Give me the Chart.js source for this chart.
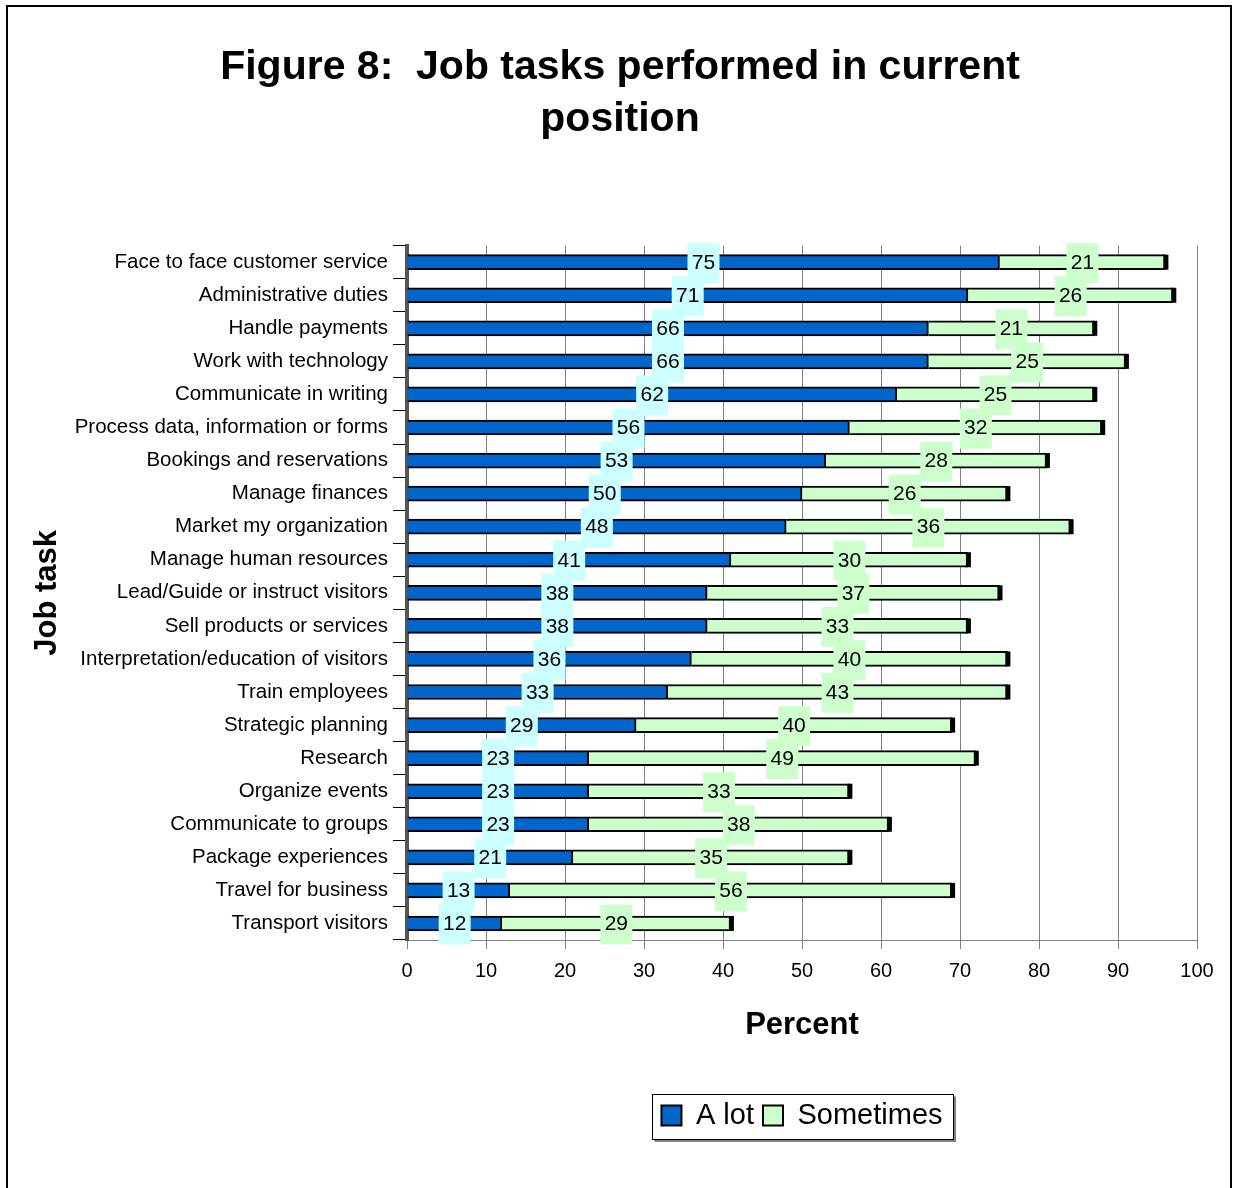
<!DOCTYPE html>
<html>
<head>
<meta charset="utf-8">
<title>Figure 8</title>
<script src="https://cdn.jsdelivr.net/npm/chart.js@4.4.1/dist/chart.umd.min.js"></script>
<style>
  html, body { margin: 0; padding: 0; background: #fff; }
  #wrap { position: relative; width: 1233px; height: 1188px; overflow: hidden; }
  #frame { position: absolute; left: 6px; top: 5px; width: 1226px; height: 1300px;
           border: 2px solid #000; border-bottom: none; box-sizing: border-box; pointer-events: none; }
</style>
</head>
<body>
<div id="wrap">
  <canvas id="chart" width="1233" height="1188"></canvas>
  <div id="frame"></div>
</div>
<script>
// data
const categories = [
  "Face to face customer service",
  "Administrative duties",
  "Handle payments",
  "Work with technology",
  "Communicate in writing",
  "Process data, information or forms",
  "Bookings and reservations",
  "Manage finances",
  "Market my organization",
  "Manage human resources",
  "Lead/Guide or instruct visitors",
  "Sell products or services",
  "Interpretation/education of visitors",
  "Train employees",
  "Strategic planning",
  "Research",
  "Organize events",
  "Communicate to groups",
  "Package experiences",
  "Travel for business",
  "Transport visitors"
];
const aLot      = [75, 71, 66, 66, 62, 56, 53, 50, 48, 41, 38, 38, 36, 33, 29, 23, 23, 23, 21, 13, 12];
const sometimes = [21, 26, 21, 25, 25, 32, 28, 26, 36, 30, 37, 33, 40, 43, 40, 49, 33, 38, 35, 56, 29];
const seriesNames = ["A lot", "Sometimes"];
const xTicks = [0, 10, 20, 30, 40, 50, 60, 70, 80, 90, 100];

const FONT = "'Liberation Sans', Arial, sans-serif";
Chart.defaults.font.family = FONT;
Chart.defaults.color = '#000';

const labelBoxColors = ['#CCFFFF', '#CCFFCC'];

// black end cap on each full bar (the old 3D look)
const endCaps = {
  id: 'endCaps',
  afterDatasetsDraw(chart) {
    const ctx = chart.ctx;
    const meta = chart.getDatasetMeta(chart.data.datasets.length - 1);
    ctx.save();
    ctx.fillStyle = '#000';
    meta.data.forEach(bar => {
      ctx.fillRect(bar.x - 2, bar.y - bar.height / 2, 5, bar.height);
    });
    ctx.restore();
  }
};

// value labels in coloured boxes, centred on each segment
const barLabels = {
  id: 'barLabels',
  afterDatasetsDraw(chart) {
    const ctx = chart.ctx;
    ctx.save();
    ctx.font = '21px ' + FONT;
    ctx.textAlign = 'center';
    ctx.textBaseline = 'middle';
    chart.data.datasets.forEach((ds, di) => {
      chart.getDatasetMeta(di).data.forEach((bar, i) => {
        const cx = (bar.x + bar.base) / 2;
        ctx.fillStyle = labelBoxColors[di];
        ctx.fillRect(cx - 16, bar.y - 19, 32, 40);
        ctx.fillStyle = '#000';
        ctx.fillText(String(ds.data[i]), cx, bar.y + 1);
      });
    });
    ctx.restore();
  }
};

// box with shadow around the legend
const legendBox = {
  id: 'legendBox',
  afterDraw(chart) {
    const boxes = chart.legend && chart.legend.legendHitBoxes;
    if (!boxes || !boxes.length) return;
    let l = Infinity, r = -Infinity, t = Infinity, b = -Infinity;
    boxes.forEach(h => {
      l = Math.min(l, h.left); r = Math.max(r, h.left + h.width);
      t = Math.min(t, h.top); b = Math.max(b, h.top + h.height);
    });
    const x0 = Math.round(l - 9) + 0.5, x1 = Math.round(r + 10) + 0.5;
    const cy = (t + b) / 2;
    const y0 = Math.round(cy - 22) + 0.5, y1 = Math.round(cy + 23) + 0.5;
    const ctx = chart.ctx;
    ctx.save();
    ctx.strokeStyle = '#808080';
    ctx.lineWidth = 2;
    ctx.beginPath();
    ctx.moveTo(x0 + 2, y1 + 1.5); ctx.lineTo(x1 + 1.5, y1 + 1.5); ctx.lineTo(x1 + 1.5, y0 + 2);
    ctx.stroke();
    ctx.strokeStyle = '#000';
    ctx.lineWidth = 1;
    ctx.strokeRect(x0, y0, x1 - x0, y1 - y0);
    ctx.restore();
  }
};

new Chart(document.getElementById('chart'), {
  type: 'bar',
  data: {
    labels: categories,
    datasets: [
      { label: seriesNames[0], data: aLot, backgroundColor: '#0066CC', borderColor: '#000', borderWidth: 2, barThickness: 15 },
      { label: seriesNames[1], data: sometimes, backgroundColor: '#CCFFCC', borderColor: '#000', borderWidth: 2, barThickness: 15 }
    ]
  },
  options: {
    indexAxis: 'y',
    responsive: false,
    animation: false,
    layout: { padding: { left: 7, right: 0, top: 0, bottom: 48 } },
    plugins: {
      title: {
        display: true,
        text: ['Figure 8:  Job tasks performed in current', 'position'],
        font: { size: 41, weight: 'bold', lineHeight: 1.27 },
        color: '#000',
        padding: { top: 42, bottom: 99.5 }
      },
      legend: {
        position: 'bottom',
        fullSize: false,
        labels: {
          boxWidth: 20, boxHeight: 20,
          font: { size: 29 },
          color: '#000',
          padding: 9
        }
      },
      tooltip: { enabled: false }
    },
    scales: {
      x: {
        stacked: true,
        min: 0, max: 100,
        afterBuildTicks(s) { s.ticks = xTicks.map(v => ({ value: v })); },
        ticks: { font: { size: 20 }, padding: 10, color: '#000' },
        grid: { color: '#808080', tickColor: '#808080', tickLength: 9, lineWidth: 1 },
        border: { color: '#808080', width: 1 },
        title: { display: true, text: 'Percent', font: { size: 31, weight: 'bold' }, padding: { top: 0, bottom: 48 } },
        afterFit(s) { s.height = 152; s.paddingRight = 36; }
      },
      y: {
        stacked: true,
        ticks: { font: { size: 20.5 }, padding: 5, color: '#000', autoSkip: false },
        grid: { drawOnChartArea: false, tickLength: 14, tickColor: '#000', offset: true },
        border: { color: '#555', width: 4 },
        title: { display: true, text: 'Job task', font: { size: 31, weight: 'bold' }, padding: { top: 22, bottom: 0 } },
        afterFit(s) { s.width = 400; }
      }
    }
  },
  plugins: [endCaps, barLabels, legendBox]
});
</script>
</body>
</html>
